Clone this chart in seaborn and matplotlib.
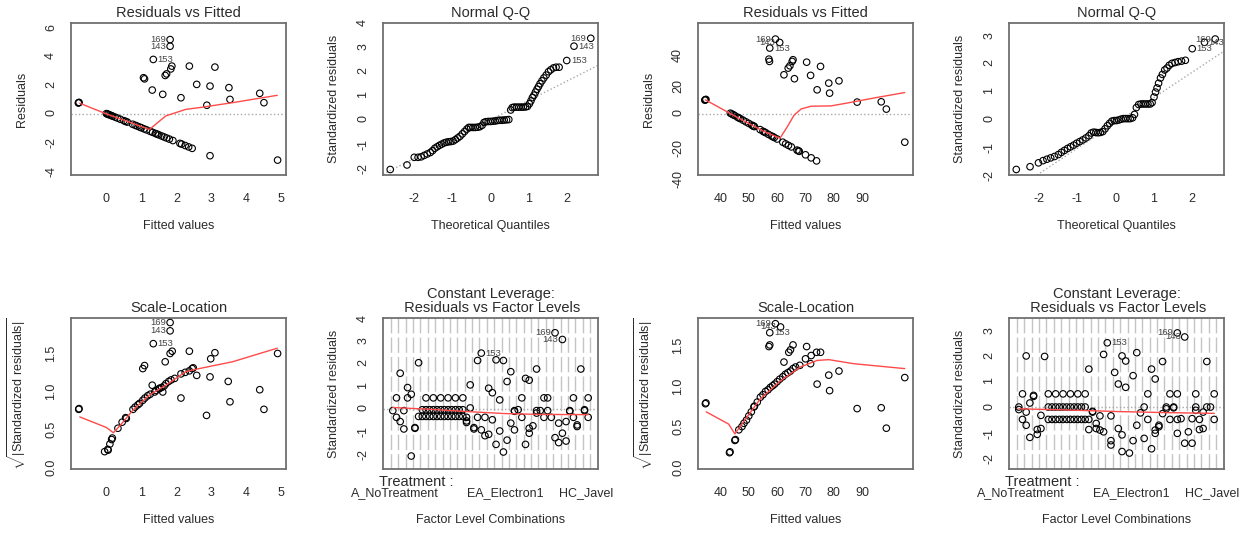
"""
Diagnósticos de dois modelos lineares (estilo plot.lm do R) lado a lado.
Salva out.png com 1247x538 px.
"""

import matplotlib

matplotlib.use("Agg")

import matplotlib.pyplot as plt
import pandas as pd
import seaborn as sns

# ---------------------------------------------------------------------------
# Dados: pares (x, y)
# ---------------------------------------------------------------------------

# Modelo 1 - Residuals vs Fitted
RVF1_POINTS = [
    (-0.79, 0.77), (-0.78, 0.79), (-0.80, 0.75),
    (0.00, 0.00), (0.03, -0.03), (0.06, -0.06), (0.10, -0.10), (0.14, -0.14),
    (0.18, -0.18), (0.25, -0.25), (0.32, -0.32), (0.40, -0.40), (0.50, -0.50),
    (0.55, -0.55), (0.60, -0.60), (0.75, -0.75), (0.82, -0.82), (0.88, -0.88),
    (0.95, -0.95), (1.00, -1.00), (1.08, -1.08), (1.15, -1.15), (1.25, -1.25),
    (1.32, -1.32), (1.40, -1.40), (1.45, -1.45), (1.50, -1.50), (1.58, -1.58),
    (1.65, -1.65), (1.72, -1.72), (1.80, -1.80), (1.90, -1.90), (2.10, -2.10),
    (2.15, -2.15), (2.25, -2.25), (2.35, -2.35), (2.45, -2.45),
    (1.82, 5.22), (1.82, 4.75), (1.34, 3.82), (1.06, 2.53), (1.09, 2.45),
    (1.68, 2.69), (1.72, 2.80), (1.84, 3.15), (1.87, 3.35), (2.37, 3.35),
    (3.10, 3.28), (1.31, 1.66), (1.61, 1.36), (2.13, 1.12), (2.58, 2.06),
    (2.96, 1.94), (3.50, 1.83), (3.53, 1.00), (4.38, 1.43), (4.50, 0.77),
    (2.87, 0.59), (2.96, -2.97), (4.89, -3.28),
]
RVF1_SMOOTH = [
    (-0.76, 0.73), (0.00, -0.02), (0.60, -0.55), (1.23, -1.12), (1.52, -0.52),
    (1.70, -0.16), (2.27, 0.30), (2.65, 0.42), (3.60, 0.77), (4.88, 1.29),
]
RVF1_IDS = [(1.82, 5.22, "169", "left"), (1.82, 4.75, "143", "left"),
            (1.34, 3.82, "153", "right")]

# Modelo 1 - Normal Q-Q
QQ1_POINTS = [
    (-2.63, -2.09), (-2.19, -1.90), (-2.00, -1.58), (-1.90, -1.58), (-1.82, -1.56),
    (-1.74, -1.50), (-1.66, -1.44), (-1.58, -1.38), (-1.52, -1.30), (-1.46, -1.20),
    (-1.40, -1.14), (-1.34, -1.08), (-1.28, -1.03), (-1.22, -0.98), (-1.16, -0.95),
    (-1.10, -0.93), (-1.04, -0.92), (-0.98, -0.90), (-0.92, -0.84), (-0.86, -0.77),
    (-0.80, -0.70), (-0.74, -0.60), (-0.68, -0.50), (-0.62, -0.40), (-0.57, -0.33),
    (-0.52, -0.33), (-0.46, -0.33), (-0.40, -0.33), (-0.34, -0.32), (-0.28, -0.30),
    (-0.22, -0.24), (-0.17, -0.12), (-0.12, -0.09), (-0.06, -0.08), (0.00, -0.08),
    (0.06, -0.07), (0.12, -0.06), (0.18, -0.04), (0.24, -0.03), (0.30, -0.03),
    (0.36, -0.02), (0.42, -0.01), (0.48, 0.00), (0.53, 0.40), (0.57, 0.50),
    (0.62, 0.52), (0.68, 0.52), (0.74, 0.52), (0.80, 0.52), (0.86, 0.52),
    (0.92, 0.53), (0.97, 0.55), (1.02, 0.66), (1.06, 0.78), (1.10, 0.92),
    (1.14, 1.02), (1.18, 1.15), (1.22, 1.27), (1.26, 1.38), (1.30, 1.50),
    (1.35, 1.62), (1.40, 1.74), (1.46, 1.86), (1.52, 2.00), (1.58, 2.08),
    (1.65, 2.16), (1.72, 2.19), (1.80, 2.19), (2.00, 2.47), (2.19, 3.07),
    (2.63, 3.40),
]
QQ1_REF = [(-2.54, -2.06), (2.81, 2.26)]
QQ1_IDS = [(2.63, 3.40, "169", "left"), (2.19, 3.07, "143", "right"),
           (2.00, 2.47, "153", "right")]

# Modelo 1 - Scale-Location
SL1_POINTS = [
    (-0.79, 0.71), (-0.78, 0.72), (-0.05, 0.15), (0.04, 0.18), (0.05, 0.17),
    (0.10, 0.25), (0.15, 0.31), (0.17, 0.33), (0.33, 0.46), (0.45, 0.54),
    (0.55, 0.60), (0.57, 0.59), (0.76, 0.71), (0.82, 0.74), (0.90, 0.77),
    (0.95, 0.79), (1.04, 0.83), (1.10, 0.86), (1.18, 0.89), (1.25, 0.91),
    (1.31, 1.03), (1.38, 0.94), (1.42, 0.96), (1.50, 0.98), (1.52, 0.99),
    (1.58, 1.00), (1.61, 0.94), (1.65, 1.02), (1.70, 1.05), (1.78, 1.08),
    (1.85, 1.10), (1.95, 1.12), (2.13, 1.18), (2.25, 1.20), (2.37, 1.22),
    (2.45, 1.25), (2.48, 1.26), (2.13, 0.86), (2.37, 1.48), (2.58, 1.16),
    (2.86, 0.63), (2.96, 1.14), (2.98, 1.38), (3.10, 1.46), (3.48, 1.08),
    (3.53, 0.81), (4.38, 0.97), (4.50, 0.71), (4.89, 1.45), (1.04, 1.25),
    (1.09, 1.29), (1.68, 1.34), (1.82, 1.45), (1.88, 1.48), (1.34, 1.58),
    (1.82, 1.75), (1.82, 1.86),
]
SL1_SMOOTH = [
    (-0.76, 0.61), (0.00, 0.47), (0.20, 0.40), (0.40, 0.50), (0.76, 0.70),
    (1.23, 0.90), (1.70, 1.03), (2.27, 1.21), (2.65, 1.25), (3.60, 1.34),
    (4.88, 1.52),
]
SL1_IDS = [(1.82, 1.86, "169", "left"), (1.82, 1.75, "143", "left"),
           (1.34, 1.58, "153", "right")]

# Modelo 1 - Residuals vs Factor Levels (posição da combinação, resíduo)
FL1_POINTS = [
    (0, -0.09), (1, 0.48), (1, -0.39), (2, 1.58), (2, -0.58), (3, -0.09),
    (3, -0.91), (4, 0.48), (4, 0.94), (5, 0.64), (5, -2.12), (6, -0.88),
    (6, -0.85), (7, -0.35), (7, 2.05),
    (8, -0.05), (8, -0.35), (9, 0.48), (9, -0.05), (9, -0.35), (10, -0.05),
    (10, -0.35), (11, 0.48), (11, -0.05), (11, -0.35), (12, -0.05), (12, -0.35),
    (13, 0.48), (13, -0.05), (13, -0.35), (14, -0.05), (14, -0.35), (15, 0.48),
    (15, -0.05), (15, -0.35), (16, -0.05), (16, -0.35), (17, 0.48), (17, -0.05),
    (17, -0.35), (18, -0.05), (18, -0.35), (19, 0.48), (19, -0.05), (19, -0.35),
    (20, -0.39), (20, -0.55), (20, -0.62), (21, 0.03), (21, 1.06), (22, -0.91),
    (22, -0.85), (23, 2.15), (23, -0.39), (24, -0.95), (24, 2.48), (25, -0.39),
    (25, -1.21), (26, -1.15), (26, 0.91), (27, -0.50), (27, 0.71), (28, -1.60),
    (28, 2.18), (29, -1.00), (29, 0.39), (30, 2.15), (30, -1.94), (31, -1.41),
    (31, 1.21), (32, 1.65), (32, -0.65), (33, -0.09), (33, -0.12), (33, -0.95),
    (34, -0.05), (35, 0.48), (35, -0.39), (36, 1.35), (36, -1.60), (37, -1.10),
    (37, 1.27), (37, -0.88), (38, -0.77), (39, -0.20), (39, -0.09), (39, 1.77),
    (40, -0.09), (41, 0.48), (41, -0.39), (42, -0.09), (42, 0.48), (43, -0.39),
    (44, -1.30), (44, 3.39), (45, -0.65), (45, -1.52), (46, 3.09), (46, -1.10),
    (47, -0.58), (47, -1.45), (48, -0.09), (48, -0.12), (49, 0.48), (49, -0.39),
    (50, -0.80), (50, -0.73), (51, 1.77), (52, -0.09), (52, -0.05), (53, 0.48),
    (53, -0.39),
]
FL1_SMOOTH = [(0, 0.05), (10, -0.03), (20, -0.13), (30, -0.22), (40, -0.26), (53, -0.27)]
FL1_IDS = [(44, 3.39, "169", "left"), (46, 3.09, "143", "left"),
           (24, 2.48, "153", "right")]

# Modelo 2 - Residuals vs Fitted
RVF2_POINTS = [
    (34.7, 9.0), (34.9, 9.3), (34.5, 8.8),
    (43.5, 0.2), (44.0, -0.3), (44.5, -0.8), (45.0, -1.3), (46.0, -2.4),
    (46.5, -2.9), (47.0, -3.4), (48.0, -4.4), (49.0, -5.5), (50.0, -6.5),
    (51.0, -7.6), (51.5, -8.1), (51.7, -8.4), (52.0, -8.6), (54.0, -10.6),
    (55.0, -11.7), (55.5, -12.2), (56.0, -12.7), (57.0, -13.8), (58.0, -14.8),
    (58.5, -15.3), (59.0, -15.8), (60.0, -16.8), (62.0, -18.9), (63.0, -20.0),
    (64.0, -21.0), (65.0, -22.0), (67.0, -24.1), (67.5, -24.6), (67.8, -24.9),
    (70.0, -27.2), (72.0, -29.2), (73.9, -31.2),
    (59.4, 49.0), (60.9, 46.8), (57.4, 43.1), (57.1, 35.8), (57.3, 34.3),
    (62.4, 25.5), (63.9, 29.9), (64.5, 31.4), (65.3, 34.3), (65.6, 35.4),
    (66.1, 22.9), (70.4, 33.8), (71.8, 25.1), (75.3, 31.0), (74.1, 15.6),
    (78.2, 20.0), (78.5, 13.4), (81.8, 21.5), (88.2, 7.5), (96.7, 7.7),
    (98.5, 2.9), (105.0, -18.9),
]
RVF2_SMOOTH = [
    (34.7, 9.0), (45.0, -1.6), (55.0, -11.5), (61.0, -16.3), (63.5, -9.0),
    (66.0, -1.0), (68.5, 3.0), (72.0, 4.8), (79.0, 5.0), (85.0, 7.0),
    (95.0, 10.5), (105.0, 13.8),
]
RVF2_IDS = [(59.4, 49.0, "169", "left"), (60.9, 46.8, "143", "left"),
            (57.4, 43.1, "153", "right")]

# Modelo 2 - Normal Q-Q
QQ2_POINTS = [
    (-2.60, -1.82), (-2.24, -1.72), (-2.02, -1.58), (-1.90, -1.50), (-1.80, -1.45),
    (-1.70, -1.40), (-1.60, -1.35), (-1.50, -1.28), (-1.42, -1.20), (-1.34, -1.13),
    (-1.26, -1.06), (-1.18, -1.00), (-1.10, -0.94), (-1.02, -0.87), (-0.94, -0.81),
    (-0.86, -0.75), (-0.78, -0.68), (-0.70, -0.60), (-0.64, -0.50), (-0.58, -0.47),
    (-0.52, -0.48), (-0.46, -0.49), (-0.40, -0.48), (-0.34, -0.45), (-0.28, -0.35),
    (-0.22, -0.24), (-0.16, -0.15), (-0.10, -0.07), (-0.04, -0.05), (0.02, -0.05),
    (0.08, -0.03), (0.14, 0.00), (0.20, 0.02), (0.26, 0.02), (0.32, 0.02),
    (0.38, 0.02), (0.44, 0.05), (0.49, 0.17), (0.54, 0.42), (0.60, 0.53),
    (0.66, 0.55), (0.72, 0.55), (0.78, 0.55), (0.84, 0.55), (0.90, 0.55),
    (0.95, 0.60), (1.00, 0.80), (1.04, 0.98), (1.08, 1.13), (1.12, 1.30),
    (1.17, 1.49), (1.22, 1.62), (1.28, 1.78), (1.34, 1.85), (1.40, 1.95),
    (1.47, 2.02), (1.55, 2.05), (1.63, 2.08), (1.72, 2.10), (1.82, 2.13),
    (2.00, 2.55), (2.32, 2.78), (2.60, 2.90),
]
QQ2_REF = [(-1.97, -1.94), (2.83, 2.46)]
QQ2_IDS = [(2.60, 2.90, "169", "left"), (2.32, 2.78, "143", "right"),
           (2.00, 2.55, "153", "right")]

# Modelo 2 - Scale-Location
SL2_POINTS = [
    (34.7, 0.73), (34.9, 0.74), (43.2, 0.13), (43.4, 0.14), (45.1, 0.28),
    (45.3, 0.29), (46.5, 0.41), (47.6, 0.45), (48.3, 0.49), (49.2, 0.53),
    (50.0, 0.58), (50.9, 0.63), (51.8, 0.69), (52.0, 0.70), (53.0, 0.75),
    (54.1, 0.81), (55.0, 0.84), (55.9, 0.88), (56.8, 0.90), (57.6, 0.93),
    (58.4, 0.95), (59.1, 0.97), (60.0, 1.00), (60.9, 1.03), (62.0, 1.06),
    (62.9, 1.09), (63.8, 1.11), (64.7, 1.13), (65.6, 1.16), (66.5, 1.18),
    (68.0, 1.20), (57.4, 1.45), (57.1, 1.43), (62.4, 1.24), (64.1, 1.36),
    (64.7, 1.39), (65.6, 1.45), (70.4, 1.43), (70.0, 1.28), (71.8, 1.22),
    (72.0, 1.32), (73.9, 1.36), (75.3, 1.36), (74.1, 0.97), (78.2, 1.08),
    (78.5, 0.89), (81.8, 1.13), (88.2, 0.67), (96.7, 0.68), (98.5, 0.43),
    (105.0, 1.05), (57.4, 1.60), (61.2, 1.67), (59.4, 1.71),
]
SL2_SMOOTH = [
    (35.0, 0.63), (42.9, 0.48), (45.1, 0.36), (49.4, 0.57), (54.1, 0.79),
    (61.2, 1.01), (68.2, 1.18), (74.1, 1.26), (78.2, 1.27), (87.0, 1.22),
    (105.0, 1.16),
]
SL2_IDS = [(59.4, 1.71, "169", "left"), (61.2, 1.67, "143", "left"),
           (57.4, 1.60, "153", "right")]

# Modelo 2 - Residuals vs Factor Levels
FL2_POINTS = [
    (0, -0.10), (0, 0.00), (1, 0.52), (1, -0.49), (2, 2.02), (2, -0.72),
    (2, -0.20), (3, -1.20), (3, 0.16), (4, 0.46), (4, 0.42), (5, -1.08),
    (5, -0.89), (6, -0.85), (6, -0.33), (7, 2.00),
    (8, 0.52), (8, 0.00), (8, -0.49), (9, 0.00), (9, -0.49), (10, 0.52),
    (10, 0.00), (10, -0.49), (11, 0.00), (11, -0.49), (12, 0.52), (12, 0.00),
    (12, -0.49), (13, 0.00), (13, -0.49), (14, 0.52), (14, 0.00), (14, -0.49),
    (15, 0.00), (15, -0.49), (16, 0.52), (16, 0.00), (16, -0.49), (17, 0.00),
    (17, -0.49), (18, 0.52), (18, 0.00), (18, -0.49), (19, 1.50), (19, -0.49),
    (19, -0.89), (20, -0.17), (20, -0.20), (21, -0.65), (21, -0.85), (22, -0.91),
    (22, -0.35), (23, 2.08), (23, -0.98), (24, 2.54), (25, -0.35), (25, -1.33),
    (25, -1.50), (26, 1.37), (27, -0.85), (27, 0.91), (28, -1.76), (28, 2.02),
    (28, -1.10), (29, 0.78), (29, 1.82), (30, -1.82), (31, -1.33), (31, 1.24),
    (32, 2.15), (32, -0.72), (33, -0.23), (34, 0.00), (34, -1.24), (35, 0.52),
    (35, -0.49), (36, 1.50), (36, -1.65), (37, -1.04), (37, -0.91), (37, 1.11),
    (38, -0.78), (38, -0.72), (39, -0.26), (39, 1.80), (40, -0.07), (40, 0.00),
    (41, 0.52), (41, -0.49), (42, 0.00), (42, -0.03), (43, 0.52), (43, -0.49),
    (43, 2.93), (43, -1.04), (44, -0.46), (45, -1.43), (45, 2.77), (46, -0.98),
    (47, -1.43), (47, -0.46), (48, -0.13), (48, 0.00), (48, 0.52), (49, -0.49),
    (49, -0.89), (50, -0.85), (50, -0.20), (51, 1.80), (51, 0.00), (52, 0.00),
    (53, 0.52), (53, -0.49),
]
FL2_SMOOTH = [(0, -0.07), (14, -0.12), (27, -0.18), (40, -0.22), (53, -0.25)]
FL2_IDS = [(43, 2.93, "169", "left"), (45, 2.77, "143", "left"),
           (24, 2.54, "153", "right")]

# Fator Treatment: 27 níveis x 2 sub-níveis; só três rótulos cabem no eixo
N_GROUPS = 27
SUB_LEVELS = 2
TREATMENT_LABELS = [(0, "A_NoTreatment"), (15, "EA_Electron1"), (26, "HC_Javel")]

# ---------------------------------------------------------------------------
# Estilo
# ---------------------------------------------------------------------------
FIG_W, FIG_H = 1247, 538
TEXT = "#2b2b2b"
RED = "#ff4a4a"
GRAY_LINE = "#a8a8a8"
SQRT_LABEL = r"$\sqrt{|\mathrm{Standardized\ residuals}|}$"


def _axes_px(fig, left, top, right, bottom):
    """Cria eixos a partir de coordenadas em pixels (origem no topo)."""
    return fig.add_axes(
        [left / FIG_W, 1 - bottom / FIG_H, (right - left) / FIG_W, (bottom - top) / FIG_H]
    )


def _pontos(ax, pares):
    df = pd.DataFrame(pares, columns=["x", "y"])
    sns.scatterplot(
        data=df, x="x", y="y", ax=ax, s=22, marker="o",
        facecolors="none", edgecolor="black", linewidth=0.8,
        legend=False, zorder=3,
    )


def _curva(ax, pares):
    df = pd.DataFrame(pares, columns=["x", "y"])
    sns.lineplot(
        data=df, x="x", y="y", ax=ax, color=RED, linewidth=1.0,
        estimator=None, sort=False, zorder=4,
    )


def _ids(ax, ids):
    for x, y, txt, lado in ids:
        dx = -3 if lado == "left" else 3
        ax.annotate(
            txt, xy=(x, y), xytext=(dx, 0), textcoords="offset points",
            ha="right" if lado == "left" else "left", va="center",
            fontsize=6.8, color="#444444", zorder=5, annotation_clip=False,
        )


def _estilo(ax, title, xlabel, ylabel, xlim, ylim, xticks, yticks, xticklabels=None):
    ax.set_xlim(xlim)
    ax.set_ylim(ylim)
    ax.set_xticks(xticks)
    if xticklabels is not None:
        ax.set_xticklabels(xticklabels)
    ax.set_yticks(yticks)
    ax.set_title(title, fontsize=10.5, pad=4, color=TEXT, linespacing=1.05)
    ax.set_xlabel(xlabel, fontsize=9, labelpad=11, color=TEXT)
    ax.set_ylabel(ylabel, fontsize=9, labelpad=12, color=TEXT)
    ax.tick_params(axis="both", direction="out", length=4, width=1,
                   color="#555555", labelsize=9, labelcolor=TEXT)
    ax.tick_params(axis="x", pad=9)
    ax.tick_params(axis="y", pad=6, labelrotation=90)
    for s in ax.spines.values():
        s.set_visible(True)
        s.set_color("#6f6f6f")
        s.set_linewidth(1.3)


def painel_residuos(ax, pontos, curva, ids, xlim, ylim, xticks, yticks, xticklabels=None):
    ax.axhline(0, ls=":", color=GRAY_LINE, lw=1, zorder=1)
    _pontos(ax, pontos)
    _curva(ax, curva)
    _ids(ax, ids)
    _estilo(ax, "Residuals vs Fitted", "Fitted values", "Residuals",
            xlim, ylim, xticks, yticks, xticklabels)


def painel_qq(ax, pontos, ref, ids, xlim, ylim, yticks):
    ax.axline(ref[0], ref[1], ls=":", color=GRAY_LINE, lw=1, zorder=1)
    _pontos(ax, pontos)
    _ids(ax, ids)
    _estilo(ax, "Normal Q-Q", "Theoretical Quantiles", "Standardized residuals",
            xlim, ylim, [-2, -1, 0, 1, 2], yticks)


def painel_escala(ax, pontos, curva, ids, xlim, ylim, xticks, xticklabels=None):
    _pontos(ax, pontos)
    _curva(ax, curva)
    _ids(ax, ids)
    _estilo(ax, "Scale-Location", "Fitted values", SQRT_LABEL,
            xlim, ylim, xticks, [0.0, 0.5, 1.0, 1.5], xticklabels)
    ax.set_yticklabels(["0.0", "0.5", "1.0", "1.5"])


def painel_fatores(ax, pontos, curva, ids, ylim, yticks):
    n_pos = N_GROUPS * SUB_LEVELS
    for b in range(N_GROUPS + 1):
        ax.axvline(SUB_LEVELS * b - 0.5, color="#c4c4c4", lw=1.0,
                   dashes=(11, 3), zorder=1)
    ax.axhline(0, ls=":", color=GRAY_LINE, lw=1, zorder=1)
    _pontos(ax, pontos)
    _curva(ax, curva)
    _ids(ax, ids)
    centros = [SUB_LEVELS * g + 0.5 for g in range(N_GROUPS)]
    nomes = dict(TREATMENT_LABELS)
    rotulos = [nomes.get(g, "") for g in range(N_GROUPS)]
    ext = 0.04 * n_pos
    _estilo(ax, "Constant Leverage:\n Residuals vs Factor Levels",
            "Factor Level Combinations", "Standardized residuals",
            (-0.5 - ext, n_pos - 0.5 + ext), ylim, centros, yticks, rotulos)
    ax.annotate("Treatment :", xy=(-0.02, 0), xycoords="axes fraction",
                xytext=(0, -9.5), textcoords="offset points", ha="left",
                va="center", fontsize=10.5, color=TEXT, annotation_clip=False)


def main():
    sns.set_style("white")
    plt.rcParams["font.family"] = ["Liberation Sans", "DejaVu Sans"]
    plt.rcParams["axes.unicode_minus"] = False
    plt.rcParams["mathtext.fontset"] = "custom"
    plt.rcParams["mathtext.rm"] = "Liberation Sans"
    plt.rcParams["mathtext.it"] = "Liberation Sans:italic"
    plt.rcParams["mathtext.bf"] = "Liberation Sans:bold"

    fig = plt.figure(figsize=(FIG_W / 100, FIG_H / 100), dpi=100)
    fig.patch.set_facecolor("white")

    lefts = [71, 383, 698, 1009]
    w = 215
    top_row = (23, 175)
    bot_row = (318, 469)

    ax1 = _axes_px(fig, lefts[0], top_row[0], lefts[0] + w, top_row[1])
    ax2 = _axes_px(fig, lefts[1], top_row[0], lefts[1] + w, top_row[1])
    ax3 = _axes_px(fig, lefts[2], top_row[0], lefts[2] + w, top_row[1])
    ax4 = _axes_px(fig, lefts[3], top_row[0], lefts[3] + w, top_row[1])
    ax5 = _axes_px(fig, lefts[0], bot_row[0], lefts[0] + w, bot_row[1])
    ax6 = _axes_px(fig, lefts[1], bot_row[0], lefts[1] + w, bot_row[1])
    ax7 = _axes_px(fig, lefts[2], bot_row[0], lefts[2] + w, bot_row[1])
    ax8 = _axes_px(fig, lefts[3], bot_row[0], lefts[3] + w, bot_row[1])

    fitted2_ticks = [40, 50, 60, 70, 80, 90, 100]
    fitted2_labels = ["40", "50", "60", "70", "80", "90", ""]

    painel_residuos(ax1, RVF1_POINTS, RVF1_SMOOTH, RVF1_IDS,
                    (-1.01, 5.13), (-4.33, 6.39), [0, 1, 2, 3, 4, 5], [-4, -2, 0, 2, 4, 6])
    painel_qq(ax2, QQ1_POINTS, QQ1_REF, QQ1_IDS,
              (-2.82, 2.82), (-2.32, 4.04), [-2, -1, 0, 1, 2, 3, 4])
    painel_residuos(ax3, RVF2_POINTS, RVF2_SMOOTH, RVF2_IDS,
                    (32.1, 107.9), (-40.5, 59.6), fitted2_ticks, [-40, -20, 0, 20, 40],
                    fitted2_labels)
    painel_qq(ax4, QQ2_POINTS, QQ2_REF, QQ2_IDS,
              (-2.79, 2.83), (-2.02, 3.48), [-2, -1, 0, 1, 2, 3])

    painel_escala(ax5, SL1_POINTS, SL1_SMOOTH, SL1_IDS,
                  (-1.01, 5.13), (-0.08, 1.92), [0, 1, 2, 3, 4, 5])
    painel_fatores(ax6, FL1_POINTS, FL1_SMOOTH, FL1_IDS,
                   (-2.7, 4.05), [-2, -1, 0, 1, 2, 3, 4])
    painel_escala(ax7, SL2_POINTS, SL2_SMOOTH, SL2_IDS,
                  (32.1, 107.9), (-0.07, 1.78), fitted2_ticks, fitted2_labels)
    painel_fatores(ax8, FL2_POINTS, FL2_SMOOTH, FL2_IDS,
                   (-2.45, 3.52), [-2, -1, 0, 1, 2, 3])

    fig.savefig("out.png", dpi=100, facecolor="white")
    plt.close(fig)


if __name__ == "__main__":
    main()
